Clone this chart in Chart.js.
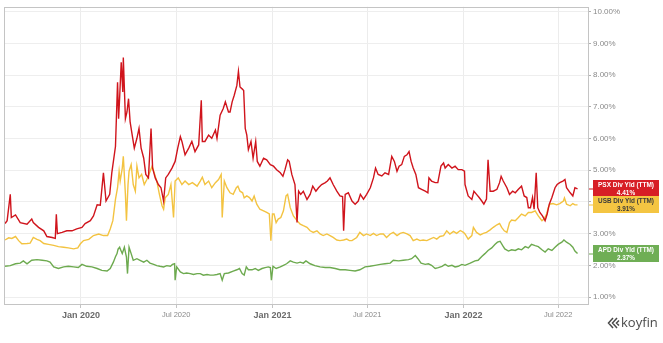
<!DOCTYPE html>
<html>
<head>
<meta charset="utf-8">
<script src="https://cdn.jsdelivr.net/npm/chart.js@4"></script>
<style>
html,body{margin:0;padding:0;background:#fff;}
#wrap{width:663px;height:343px;}
</style>
</head>
<body>
<div id="wrap"><canvas id="c" width="663" height="343"></canvas></div>
<script>
// x values are days since 2020-01-01
const tickDays = [0, 182, 366, 547, 731, 912];
const tickLabels = ['Jan 2020', 'Jul 2020', 'Jan 2021', 'Jul 2021', 'Jan 2022', 'Jul 2022'];
const yTicks = [1, 2, 3, 4, 5, 6, 7, 8, 9, 10];

const seriesNames = ['PSX Div Yld (TTM)', 'USB Div Yld (TTM)', 'APD Div Yld (TTM)'];
const lastValues = ['4.41%', '3.91%', '2.37%'];

const psxDays = [-145,-141,-135,-133,-125,-116,-103,-94,-91,-81,-71,-65,-55,-49,-47,-45,-36,-27,-17,-8,2,8,18,24,31,37,43,48,55,59,66,70,72,74,77,80,81,85,88,91,94,99,102,107,111,115,120,124,129,134,137,142,148,153,158,162,167,174,180,185,190,193,199,206,212,218,225,230,232,237,244,250,257,260,266,272,276,282,285,289,293,298,301,304,308,311,314,317,320,325,329,334,337,342,349,355,362,368,374,381,386,390,395,398,403,409,413,416,420,425,432,438,443,449,454,460,467,471,476,482,489,495,500,502,505,511,518,524,530,534,540,546,553,559,563,568,575,581,588,594,599,604,608,613,618,623,627,631,635,640,645,651,658,663,665,670,677,682,688,693,696,702,709,715,721,728,733,734,740,747,751,756,761,766,770,775,778,782,788,795,800,803,807,814,819,825,830,836,842,847,852,855,859,863,866,870,873,877,882,887,891,895,900,906,910,915,921,925,928,935,940,944,949];
const psxValues = [3.32,3.41,4.24,3.51,3.59,3.35,3.30,3.46,3.35,3.20,3.09,2.91,2.88,2.85,3.61,3.00,3.04,3.09,3.09,3.15,3.20,3.32,3.41,3.56,3.91,3.90,4.92,4.03,4.24,4.92,5.75,7.78,6.63,7.30,8.41,7.47,8.56,6.63,6.84,7.26,6.53,6.01,5.70,6.01,6.32,5.70,5.38,4.87,4.76,6.32,5.07,4.76,4.55,4.45,4.03,4.76,4.87,5.07,5.28,5.70,6.06,5.91,5.49,5.70,5.91,5.59,5.80,7.21,5.91,5.91,6.11,6.01,6.27,6.01,6.74,6.95,7.16,6.84,6.84,7.16,7.37,7.68,8.12,7.63,7.57,7.52,6.32,6.11,5.65,5.91,5.38,5.91,5.28,5.13,5.38,5.33,5.18,5.13,5.02,4.92,4.81,5.02,5.33,5.28,4.87,4.55,3.35,4.34,4.24,4.34,4.08,4.24,4.50,4.34,4.45,4.55,4.61,4.66,4.76,4.55,4.34,4.19,4.17,3.09,4.24,4.29,4.03,3.93,4.03,4.24,4.09,4.24,4.45,4.76,5.07,4.87,4.82,4.92,4.87,5.44,5.28,4.97,5.13,5.18,5.44,5.49,5.59,5.28,5.07,4.87,4.45,4.40,4.34,4.29,4.76,4.66,4.61,4.61,5.13,5.23,5.07,5.18,5.07,5.13,5.02,5.02,4.97,4.55,4.19,4.08,4.34,4.24,4.14,4.03,3.93,4.09,5.33,4.34,4.34,4.40,4.61,4.81,4.66,4.45,4.24,4.34,4.29,4.40,4.50,4.19,4.14,3.82,3.82,4.14,3.77,4.92,3.82,3.67,3.56,3.41,3.62,3.93,4.14,4.45,4.55,4.61,4.66,4.71,4.45,4.29,4.19,4.45,4.41];

const usbDays = [-145,-138,-132,-125,-119,-113,-103,-97,-91,-84,-78,-71,-62,-52,-43,-33,-24,-14,-6,-1,5,15,24,34,43,51,56,61,66,70,73,75,79,81,85,87,90,92,96,100,104,107,111,116,121,126,130,136,141,145,150,155,158,161,167,172,177,180,186,193,199,206,213,222,228,232,237,244,250,257,263,268,270,274,279,285,291,297,300,304,309,312,317,322,327,331,336,342,349,355,360,363,366,369,373,377,382,387,392,395,400,406,413,419,425,432,438,444,451,457,463,470,476,482,489,495,502,508,513,518,527,533,540,546,553,559,565,572,578,584,591,597,604,610,616,623,629,635,642,648,654,661,667,674,680,686,693,699,705,712,718,725,731,734,740,747,750,756,763,769,775,782,788,795,800,804,809,814,819,823,830,836,842,849,855,861,868,874,881,885,890,893,896,902,909,915,922,924,928,935,940,944,949];
const usbValues = [2.80,2.87,2.85,2.91,2.78,2.68,2.69,2.70,2.88,2.82,2.78,2.69,2.66,2.63,2.59,2.57,2.55,2.52,2.55,2.68,2.78,2.82,2.94,2.99,2.94,2.94,3.15,3.41,4.08,4.45,4.97,4.66,5.07,5.44,4.24,3.41,4.55,4.97,5.18,4.55,4.34,5.13,4.76,4.87,4.55,4.71,4.87,5.13,4.87,4.66,4.24,3.88,3.77,4.13,4.24,4.55,3.51,4.66,4.76,4.55,4.66,4.55,4.61,4.50,4.66,4.78,4.55,4.66,4.45,4.61,4.71,4.87,3.51,4.66,4.45,4.29,4.24,4.45,4.50,4.34,4.29,4.13,4.19,4.14,4.03,4.19,3.93,3.77,3.72,3.67,3.62,2.78,3.62,3.62,3.35,3.46,3.51,3.72,4.19,4.24,3.82,3.56,3.41,3.30,3.25,3.20,3.09,3.04,3.09,2.99,2.94,2.99,2.94,2.88,2.80,2.78,2.80,2.83,2.78,2.78,2.88,3.04,2.94,2.99,2.94,3.01,2.94,2.99,2.99,2.88,2.99,3.04,2.94,3.01,3.04,2.99,2.94,2.78,2.83,2.78,2.80,2.78,2.83,2.88,2.83,2.91,2.94,3.09,2.99,3.07,3.01,3.10,3.04,2.99,2.83,2.94,3.20,3.04,2.96,3.01,3.04,3.12,3.20,3.28,3.32,3.20,3.09,3.04,3.35,3.43,3.41,3.51,3.62,3.56,3.67,3.67,3.72,3.56,3.41,3.46,3.62,3.82,3.93,3.95,3.91,3.95,4.03,4.13,3.93,3.88,3.95,3.91,3.91];

const apdDays = [-145,-135,-125,-116,-110,-103,-94,-84,-74,-65,-59,-52,-43,-33,-24,-14,-5,2,11,21,31,40,50,56,62,66,69,71,74,75,79,83,87,89,92,96,100,107,113,120,126,132,139,145,151,158,164,171,175,179,180,183,190,196,202,209,215,222,228,234,241,247,253,260,266,270,274,282,291,298,303,308,312,316,320,327,333,339,346,352,358,362,364,367,373,381,387,393,400,406,413,419,425,430,438,447,457,467,476,486,495,505,514,524,533,543,552,562,572,581,591,597,607,616,626,632,639,644,650,658,664,670,677,683,690,696,702,709,715,721,728,734,744,753,759,766,772,778,785,791,796,801,806,810,817,823,830,836,842,849,855,861,868,874,881,887,893,900,906,912,919,923,928,935,940,944,949];
const apdValues = [1.97,1.99,2.05,2.07,2.14,2.05,2.16,2.18,2.16,2.14,2.10,1.95,1.90,1.95,1.97,1.95,1.93,2.03,1.97,1.95,1.90,1.84,1.82,1.90,2.10,2.27,2.37,2.51,2.57,2.52,2.37,2.57,2.26,1.74,2.57,2.37,2.16,2.21,2.16,2.10,2.16,2.07,2.03,1.99,1.97,1.95,1.99,1.97,2.03,2.05,1.53,1.95,1.79,1.74,1.76,1.74,1.71,1.74,1.74,1.69,1.71,1.69,1.69,1.71,1.74,1.53,1.74,1.76,1.82,1.86,1.90,1.74,1.69,1.95,1.86,1.86,1.90,1.84,1.90,1.93,1.95,1.93,1.53,1.97,1.90,1.95,2.00,2.05,2.14,2.10,2.07,2.10,2.07,2.14,2.05,1.99,1.95,1.93,1.93,1.90,1.86,1.86,1.84,1.82,1.86,1.95,1.97,2.00,2.03,2.05,2.07,2.16,2.14,2.16,2.18,2.21,2.31,2.21,2.07,2.03,2.05,2.00,1.90,1.93,1.97,2.03,1.97,2.00,1.95,1.97,2.03,2.00,2.07,2.14,2.16,2.28,2.37,2.47,2.55,2.66,2.73,2.76,2.62,2.52,2.45,2.49,2.47,2.52,2.49,2.59,2.55,2.66,2.62,2.59,2.49,2.42,2.52,2.47,2.57,2.66,2.73,2.80,2.73,2.66,2.57,2.45,2.37];

const lineColors = ['#d0141c', '#f3c341', '#6daa4f'];
const boxColors = ['#d71e26', '#f4c542', '#6fae55'];
const boxText = ['#ffffff', '#3a3a3a', '#ffffff'];

function pts(d, v) { return d.map((x, i) => ({ x: x, y: v[i] })); }

const frame = {
  id: 'frame',
  afterDraw(chart) {
    const { ctx, chartArea: a } = chart;
    ctx.save();
    ctx.strokeStyle = '#c4c4c4';
    ctx.lineWidth = 1;
    ctx.strokeRect(Math.round(a.left) + 0.5, Math.round(a.top) + 0.5, Math.round(a.right - a.left), Math.round(a.bottom - a.top));
    // value boxes
    const ys = chart.scales.y;
    chart.data.datasets.forEach((ds, i) => {
      const last = ds.data[ds.data.length - 1];
      const cy = ys.getPixelForValue(last.y);
      const bx = a.right + 5, bw = 66, bh = 17;
      ctx.fillStyle = lineColors[i];
      ctx.fillRect(a.right + 1, Math.round(cy) - 0.5, 4, 1);
      ctx.fillStyle = boxColors[i];
      ctx.fillRect(bx, Math.round(cy - bh / 2), bw, bh);
      ctx.fillStyle = boxText[i];
      let fs = 7.5;
      ctx.font = 'bold ' + fs + 'px "Liberation Sans", Arial, sans-serif';
      const w = ctx.measureText(seriesNames[i]).width;
      if (w > 56) { fs = fs * 56 / w; ctx.font = 'bold ' + fs.toFixed(2) + 'px "Liberation Sans", Arial, sans-serif'; }
      ctx.textAlign = 'center';
      ctx.textBaseline = 'middle';
      ctx.fillText(seriesNames[i], bx + bw / 2, cy - 3.6);
      ctx.fillText(lastValues[i], bx + bw / 2, cy + 4.2);
    });
    // logo
    ctx.strokeStyle = '#4a4a4a';
    ctx.lineWidth = 1.5;
    ctx.beginPath();
    ctx.moveTo(613, 318); ctx.lineTo(608.5, 323); ctx.lineTo(613, 328);
    ctx.moveTo(617, 318); ctx.lineTo(612.5, 323); ctx.lineTo(617, 328);
    ctx.moveTo(619, 320.5); ctx.lineTo(616.5, 323); ctx.lineTo(619, 325.5);
    ctx.stroke();
    ctx.fillStyle = '#4a4a4a';
    ctx.font = '13px "Open Sans", "Noto Sans", sans-serif';
    ctx.textAlign = 'left';
    ctx.textBaseline = 'alphabetic';
    ctx.fillText('koyfin', 621, 327);
    ctx.restore();
  }
};

new Chart(document.getElementById('c'), {
  type: 'line',
  data: {
    datasets: [
      { label: seriesNames[0], data: pts(psxDays, psxValues), borderColor: lineColors[0] },
      { label: seriesNames[1], data: pts(usbDays, usbValues), borderColor: lineColors[1] },
      { label: seriesNames[2], data: pts(apdDays, apdValues), borderColor: lineColors[2] }
    ]
  },
  options: {
    responsive: false,
    animation: false,
    layout: { padding: { left: 4, top: 4, right: 0, bottom: 0 } },
    elements: {
      point: { radius: 0 },
      line: { borderWidth: 1.4, tension: 0 }
    },
    plugins: { legend: { display: false }, tooltip: { enabled: false } },
    scales: {
      x: {
        type: 'linear',
        min: -147,
        max: 969,
        afterBuildTicks(s) { s.ticks = tickDays.map(v => ({ value: v })); },
        afterFit(s) { s.height = 39; },
        grid: { color: '#ececec', lineWidth: 1, drawTicks: true, tickLength: 4, tickColor: '#c4c4c4' },
        border: { display: false },
        ticks: {
          autoSkip: false,
          maxRotation: 0,
          padding: 2,
          callback(v) { const i = tickDays.indexOf(v); return i >= 0 ? tickLabels[i] : ''; },
          font(ctx) {
            const v = ctx.tick ? ctx.tick.value : 0;
            const jan = tickDays.indexOf(v) % 2 === 0;
            return jan ? { family: '"Liberation Sans", Arial, sans-serif', size: 9, weight: 'bold' }
                       : { family: '"Liberation Sans", Arial, sans-serif', size: 7.5, weight: 'normal' };
          },
          color(ctx) {
            const v = ctx.tick ? ctx.tick.value : 0;
            return tickDays.indexOf(v) % 2 === 0 ? '#6a6a6a' : '#8a8a8a';
          }
        }
      },
      y: {
        position: 'right',
        min: 0.78,
        max: 10.16,
        afterBuildTicks(s) { s.ticks = yTicks.map(v => ({ value: v })); },
        afterFit(s) { s.width = 75; },
        grid: { color: '#eeeeee', lineWidth: 1, drawTicks: true, tickLength: 3, tickColor: '#b0b0b0' },
        border: { display: false },
        ticks: {
          padding: 2,
          callback(v) { return v.toFixed(2) + '%'; },
          font: { family: '"Liberation Sans", Arial, sans-serif', size: 8 },
          color: '#8a8a8a'
        }
      }
    }
  },
  plugins: [frame]
});
</script>
</body>
</html>
